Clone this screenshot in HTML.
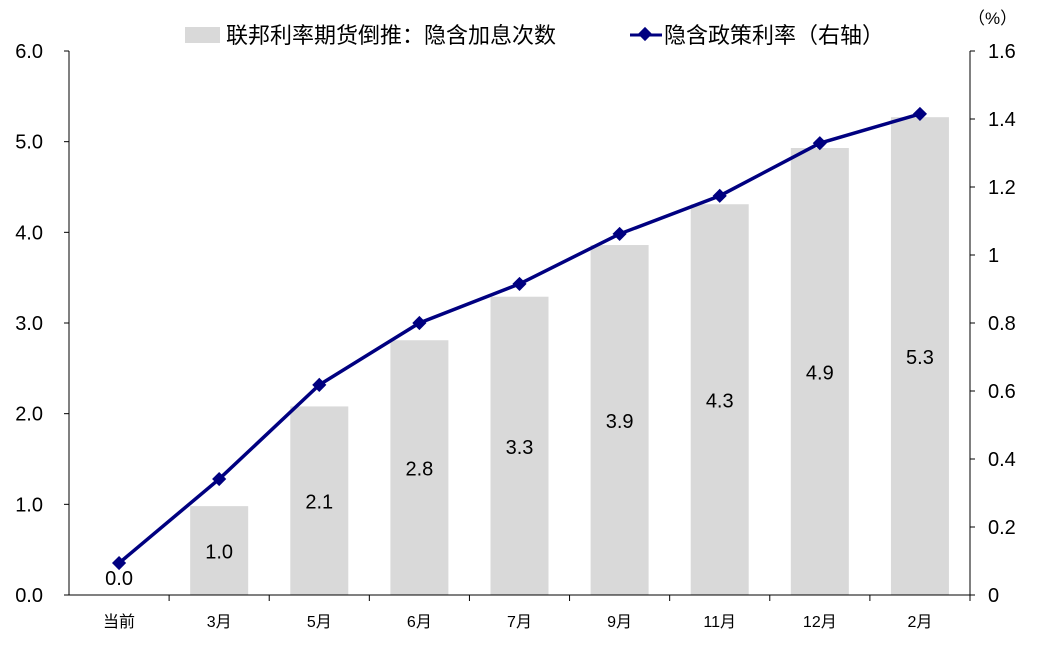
<!DOCTYPE html>
<html><head><meta charset="utf-8"><style>
body{margin:0;background:#fff;}
svg{display:block;font-family:"Liberation Sans","Noto Sans CJK SC",sans-serif;}
</style></head><body>
<svg id="chart" width="1051" height="646">
<g id="legend">
<rect x="185" y="27" width="35" height="16" fill="#d9d9d9"/>
<text x="226" y="43" font-size="22" fill="#000">联邦利率期货倒推：隐含加息次数</text>
<line x1="630" y1="35" x2="662" y2="35" stroke="#000080" stroke-width="3"/>
<rect x="640" y="29" width="10" height="10" fill="#000080" transform="rotate(45 645 34)"/>
<text x="664" y="43" font-size="22" fill="#000">隐含政策利率（右轴）</text>
</g>
<text x="968" y="24" font-size="17" fill="#000">（%）</text>
<g id="plot"></g>
</svg>
<script>
const categories=["当前","3月","5月","6月","7月","9月","11月","12月","2月"];
const hikes=[0,0.98,2.08,2.81,3.29,3.86,4.31,4.93,5.27];
const rates=[0.094,0.341,0.618,0.8,0.915,1.062,1.174,1.329,1.415];
const leftTicks=[0,1,2,3,4,5,6];
const rightTicks=[0,0.2,0.4,0.6,0.8,1,1.2,1.4,1.6];
const ns="http://www.w3.org/2000/svg";
const g=document.getElementById("plot");
const X0=69,X1=970,Y0=595,Y1=51;
const step=(X1-X0)/categories.length;
const xc=i=>X0+step*(i+0.5);
const yL=v=>Y0-(v/6)*(Y0-Y1);
const yR=v=>Y0-(v/1.6)*(Y0-Y1);
function mk(t,a){const e=document.createElementNS(ns,t);for(const k in a)e.setAttribute(k,a[k]);g.appendChild(e);return e;}
hikes.forEach((v,i)=>{
 const b=mk("rect",{x:xc(i)-29,y:yL(v),width:58,height:Y0-yL(v),fill:"#d9d9d9"});
 
 
 const t=mk("text",{x:xc(i),y:Math.min((yL(v)+Y0)/2,577)+8,"font-size":20,"text-anchor":"middle",fill:"#000"});
 t.textContent=v.toFixed(1);
 
 
});
let a=mk("line",{x1:X0,y1:Y1,x2:X0,y2:Y0,stroke:"#000","stroke-width":1});


a=mk("line",{x1:X1,y1:Y1,x2:X1,y2:Y0,stroke:"#000","stroke-width":1});


a=mk("line",{x1:X0,y1:Y0,x2:X1,y2:Y0,stroke:"#000","stroke-width":1});


leftTicks.forEach(v=>{
 const l=mk("line",{x1:X0-5,y1:yL(v),x2:X0,y2:yL(v),stroke:"#000"});
 
 
 const t=mk("text",{x:X0-26,y:yL(v)+7,"font-size":20,"text-anchor":"end",fill:"#000"});
 t.textContent=v.toFixed(1);
 
 
});
rightTicks.forEach(v=>{
 const l=mk("line",{x1:X1,y1:yR(v),x2:X1+5,y2:yR(v),stroke:"#000"});
 
 
 const t=mk("text",{x:X1+18,y:yR(v)+7,"font-size":20,fill:"#000"});
 t.textContent=String(+v.toFixed(1));
 
 
});
categories.forEach((c,i)=>{
 const l=mk("line",{x1:X0+step*(i+1),y1:Y0,x2:X0+step*(i+1),y2:Y0+6,stroke:"#000"});
 
 
 const t=mk("text",{x:xc(i),y:627,"font-size":16,"text-anchor":"middle",fill:"#000"});
 t.textContent=c;
 
 
});
const p=mk("polyline",{points:rates.map((v,i)=>xc(i)+","+yR(v)).join(" "),fill:"none",stroke:"#000080","stroke-width":3.5});


rates.forEach((v,i)=>{
 const m=mk("rect",{x:xc(i)-5,y:yR(v)-5,width:10,height:10,fill:"#000080",transform:`rotate(45 ${xc(i)} ${yR(v)})`});
 
 
});
</script>
</body></html>
